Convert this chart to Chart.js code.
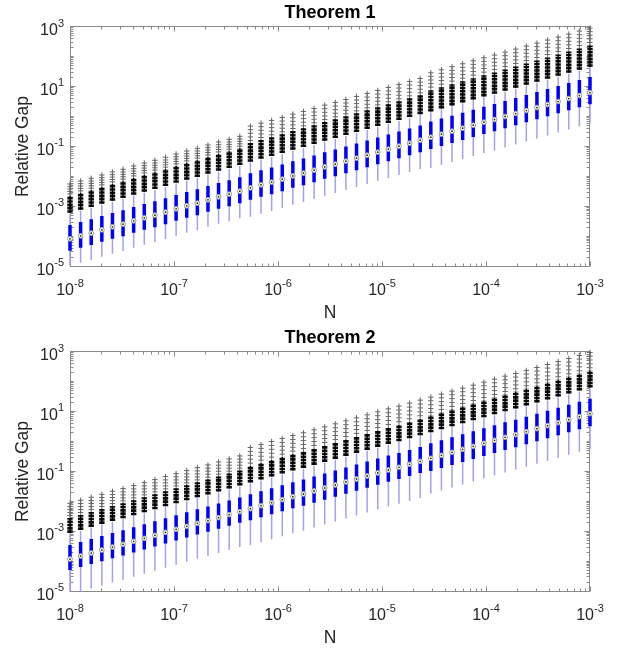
<!DOCTYPE html>
<html><head><meta charset="utf-8">
<script src="https://cdn.jsdelivr.net/npm/chart.js@4.4.1/dist/chart.umd.min.js"></script>
<style>
html,body{margin:0;padding:0;background:#fff;}
canvas{display:block;}
</style></head><body>
<canvas id="c1" width="624" height="325"></canvas>
<canvas id="c2" width="624" height="325"></canvas>
<script>
// ---------------- data (values given as base-10 exponents) ----------------
const nValues = [1.000e-8,1.265e-8,1.600e-8,2.024e-8,2.560e-8,3.237e-8,4.095e-8,5.179e-8,6.551e-8,8.286e-8,
1.048e-7,1.326e-7,1.677e-7,2.121e-7,2.683e-7,3.393e-7,4.292e-7,5.429e-7,6.866e-7,8.685e-7,
1.099e-6,1.389e-6,1.758e-6,2.223e-6,2.812e-6,3.556e-6,4.498e-6,5.690e-6,7.197e-6,9.103e-6,
1.151e-5,1.456e-5,1.842e-5,2.330e-5,2.947e-5,3.728e-5,4.715e-5,5.964e-5,7.543e-5,9.541e-5,
1.207e-4,1.526e-4,1.931e-4,2.442e-4,3.089e-4,3.907e-4,4.942e-4,6.251e-4,7.906e-4,1.000e-3];

const xTickExps = ['-8','-7','-6','-5','-4','-3'];
const yTickExps = ['3','1','-1','-3','-5'];
const chartTitles = ['Theorem 1','Theorem 2'];
const xAxisTitle = 'N';
const yAxisTitle = 'Relative Gap';

// Theorem 1
const thm1Med = [-4.10,-4.00,-3.91,-3.80,-3.70,-3.61,-3.50,-3.40,-3.31,-3.21,-3.10,-3.00,-2.91,-2.80,-2.70,-2.61,-2.51,-2.40,-2.30,-2.21,-2.11,-2.00,-1.91,-1.81,-1.70,-1.61,-1.51,-1.41,-1.31,-1.21,-1.11,-1.01,-0.91,-0.81,-0.71,-0.61,-0.51,-0.41,-0.31,-0.21,-0.12,-0.02,0.08,0.18,0.28,0.38,0.48,0.58,0.68,0.78];
const thm1Q3 = [-3.64,-3.54,-3.45,-3.34,-3.24,-3.15,-3.04,-2.94,-2.85,-2.75,-2.64,-2.54,-2.45,-2.34,-2.24,-2.15,-2.05,-1.91,-1.81,-1.72,-1.62,-1.51,-1.42,-1.32,-1.21,-1.12,-1.02,-0.92,-0.82,-0.72,-0.62,-0.52,-0.42,-0.32,-0.19,-0.09,0.01,0.11,0.21,0.31,0.40,0.50,0.60,0.70,0.80,0.90,1.00,1.10,1.20,1.30];
const thm1Q1 = [-4.50,-4.40,-4.31,-4.20,-4.10,-4.01,-3.90,-3.80,-3.71,-3.61,-3.50,-3.40,-3.31,-3.20,-3.10,-3.01,-2.91,-2.80,-2.70,-2.61,-2.51,-2.40,-2.31,-2.21,-2.10,-2.01,-1.91,-1.81,-1.71,-1.61,-1.51,-1.41,-1.31,-1.21,-1.10,-1.00,-0.90,-0.80,-0.70,-0.60,-0.51,-0.41,-0.31,-0.21,-0.11,-0.01,0.09,0.19,0.29,0.39];
const thm1WhiskLo = [-5.00,-4.90,-4.81,-4.70,-4.60,-4.51,-4.40,-4.30,-4.21,-4.11,-4.00,-3.90,-3.81,-3.70,-3.60,-3.51,-3.41,-3.36,-3.26,-3.17,-3.07,-2.96,-2.87,-2.77,-2.66,-2.57,-2.47,-2.37,-2.27,-2.17,-2.07,-1.97,-1.87,-1.77,-1.74,-1.64,-1.54,-1.44,-1.34,-1.24,-1.15,-1.05,-0.95,-0.85,-0.75,-0.65,-0.55,-0.45,-0.35,-0.25];
const thm1WhiskHi = [-3.26,-3.16,-3.07,-2.96,-2.86,-2.77,-2.66,-2.56,-2.47,-2.37,-2.26,-2.16,-2.07,-1.96,-1.86,-1.77,-1.67,-1.56,-1.46,-1.37,-1.27,-1.16,-1.07,-0.97,-0.86,-0.77,-0.67,-0.57,-0.47,-0.37,-0.27,-0.17,-0.07,0.03,0.12,0.22,0.32,0.42,0.52,0.62,0.71,0.81,0.91,1.01,1.11,1.21,1.31,1.41,1.51,1.61];
const thm1OutBandLo = [-3.23,-3.13,-3.04,-2.93,-2.83,-2.74,-2.63,-2.53,-2.44,-2.34,-2.23,-2.13,-2.04,-1.93,-1.83,-1.74,-1.64,-1.53,-1.43,-1.34,-1.24,-1.13,-1.04,-0.94,-0.83,-0.74,-0.64,-0.54,-0.44,-0.34,-0.24,-0.14,-0.04,0.06,0.15,0.25,0.35,0.45,0.55,0.65,0.74,0.84,0.94,1.04,1.14,1.24,1.34,1.44,1.54,1.64];
const thm1OutBandHi = [-2.67,-2.57,-2.48,-2.37,-2.27,-2.18,-2.07,-1.97,-1.88,-1.78,-1.67,-1.57,-1.48,-1.37,-1.27,-1.18,-1.08,-0.90,-0.80,-0.71,-0.61,-0.50,-0.41,-0.31,-0.20,-0.11,-0.01,0.09,0.19,0.29,0.39,0.49,0.59,0.69,0.86,0.96,1.06,1.16,1.26,1.36,1.45,1.55,1.65,1.75,1.85,1.95,2.05,2.15,2.25,2.35];
const thm1OutSparse = [
[-2.60,-2.52,-2.44,-2.36,-2.27],[-2.50,-2.42,-2.34,-2.26,-2.17],[-2.41,-2.33,-2.25,-2.17,-2.08],[-2.30,-2.22,-2.14,-2.06,-1.97],[-2.20,-2.12,-2.04,-1.96,-1.87],
[-2.11,-2.03,-1.95,-1.87,-1.78],[-2.00,-1.92,-1.84,-1.76,-1.67],[-1.90,-1.82,-1.74,-1.66,-1.57],[-1.81,-1.73,-1.65,-1.57,-1.48],[-1.71,-1.63,-1.55,-1.47,-1.38],
[-1.60,-1.52,-1.44,-1.36,-1.27],[-1.50,-1.42,-1.34,-1.26,-1.17],[-1.41,-1.33,-1.25,-1.17,-1.08],[-1.30,-1.22,-1.14,-1.06,-0.97],[-1.20,-1.12,-1.04,-0.96,-0.87],
[-1.11,-1.03,-0.95,-0.87,-0.78],[-1.01,-0.93,-0.85,-0.77,-0.68],[-0.82,-0.70,-0.58,-0.46,-0.34],[-0.72,-0.60,-0.48,-0.36,-0.24],[-0.63,-0.51,-0.39,-0.27,-0.15],
[-0.53,-0.41,-0.29,-0.17,-0.05],[-0.42,-0.30,-0.18,-0.06,0.06],[-0.33,-0.21,-0.09,0.03,0.15],[-0.23,-0.11,0.01,0.13,0.25],[-0.12,0.00,0.12,0.24,0.36],
[-0.03,0.09,0.21,0.33,0.45],[0.07,0.19,0.31,0.43,0.55],[0.17,0.29,0.41,0.53,0.65],[0.27,0.39,0.51,0.63,0.75],[0.37,0.49,0.61,0.73,0.85],
[0.47,0.59,0.71,0.83,0.95],[0.57,0.69,0.81,0.93,1.05],[0.67,0.79,0.91,1.03,1.15],[0.77,0.89,1.01,1.13,1.25],[0.96,1.08,1.20,1.32,1.44],
[1.06,1.18,1.30,1.42,1.54],[1.16,1.28,1.40,1.52,1.64],[1.26,1.38,1.50,1.62,1.74],[1.36,1.48,1.60,1.72,1.84],[1.46,1.58,1.70,1.82,1.94],
[1.55,1.67,1.79,1.91,2.03],[1.65,1.77,1.89,2.01,2.13],[1.75,1.87,1.99,2.11,2.23],[1.85,1.97,2.09,2.21,2.33],[1.95,2.07,2.19,2.31,2.43],
[2.05,2.17,2.29,2.41,2.53],[2.15,2.27,2.39,2.51,2.63],[2.25,2.37,2.49,2.61,2.73],[2.35,2.47,2.59,2.71,2.83],[2.45,2.57,2.69,2.81,2.93]];

// Theorem 2
const thm2Med = [-3.94,-3.84,-3.74,-3.64,-3.54,-3.45,-3.35,-3.25,-3.15,-3.05,-2.95,-2.85,-2.75,-2.66,-2.56,-2.46,-2.36,-2.26,-2.16,-2.06,-1.96,-1.86,-1.77,-1.67,-1.57,-1.47,-1.37,-1.27,-1.17,-1.07,-0.97,-0.88,-0.78,-0.68,-0.58,-0.48,-0.38,-0.28,-0.18,-0.08,0.02,0.12,0.21,0.31,0.41,0.51,0.61,0.71,0.81,0.91];
const thm2Q3 = [-3.47,-3.37,-3.27,-3.17,-3.07,-2.98,-2.88,-2.78,-2.68,-2.58,-2.48,-2.38,-2.28,-2.19,-2.09,-1.99,-1.89,-1.78,-1.68,-1.58,-1.48,-1.38,-1.29,-1.19,-1.09,-0.99,-0.89,-0.79,-0.69,-0.59,-0.49,-0.40,-0.30,-0.20,-0.08,0.02,0.12,0.22,0.32,0.42,0.52,0.62,0.71,0.81,0.91,1.01,1.11,1.21,1.31,1.41];
const thm2Q1 = [-4.31,-4.21,-4.11,-4.01,-3.91,-3.82,-3.72,-3.62,-3.52,-3.42,-3.32,-3.22,-3.12,-3.03,-2.93,-2.83,-2.73,-2.65,-2.55,-2.45,-2.35,-2.25,-2.16,-2.06,-1.96,-1.86,-1.76,-1.66,-1.56,-1.46,-1.36,-1.27,-1.17,-1.07,-1.00,-0.90,-0.80,-0.70,-0.60,-0.50,-0.40,-0.30,-0.21,-0.11,-0.01,0.09,0.19,0.29,0.39,0.49];
const thm2WhiskLo = [-5.12,-5.02,-4.92,-4.82,-4.72,-4.63,-4.53,-4.43,-4.33,-4.23,-4.13,-4.03,-3.93,-3.84,-3.74,-3.64,-3.54,-3.48,-3.38,-3.28,-3.18,-3.08,-2.99,-2.89,-2.79,-2.69,-2.59,-2.49,-2.39,-2.29,-2.19,-2.10,-2.00,-1.90,-1.75,-1.65,-1.55,-1.45,-1.35,-1.25,-1.15,-1.05,-0.96,-0.86,-0.76,-0.66,-0.56,-0.46,-0.36,-0.26];
const thm2WhiskHi = [-3.10,-3.00,-2.90,-2.80,-2.70,-2.61,-2.51,-2.41,-2.31,-2.21,-2.11,-2.01,-1.91,-1.82,-1.72,-1.62,-1.52,-1.42,-1.32,-1.22,-1.12,-1.02,-0.93,-0.83,-0.73,-0.63,-0.53,-0.43,-0.33,-0.23,-0.13,-0.04,0.06,0.16,0.26,0.36,0.46,0.56,0.66,0.76,0.86,0.96,1.05,1.15,1.25,1.35,1.45,1.55,1.65,1.75];
const thm2OutBandLo = [-3.07,-2.97,-2.87,-2.77,-2.67,-2.58,-2.48,-2.38,-2.28,-2.18,-2.08,-1.98,-1.88,-1.79,-1.69,-1.59,-1.49,-1.39,-1.29,-1.19,-1.09,-0.99,-0.90,-0.80,-0.70,-0.60,-0.50,-0.40,-0.30,-0.20,-0.10,-0.01,0.09,0.19,0.29,0.39,0.49,0.59,0.69,0.79,0.89,0.99,1.08,1.18,1.28,1.38,1.48,1.58,1.68,1.78];
const thm2OutBandHi = [-2.57,-2.47,-2.37,-2.27,-2.17,-2.08,-1.98,-1.88,-1.78,-1.68,-1.58,-1.48,-1.38,-1.29,-1.19,-1.09,-0.99,-0.84,-0.74,-0.64,-0.54,-0.44,-0.35,-0.25,-0.15,-0.05,0.05,0.15,0.25,0.35,0.45,0.54,0.64,0.74,0.85,0.95,1.05,1.15,1.25,1.35,1.45,1.55,1.64,1.74,1.84,1.94,2.04,2.14,2.24,2.34];
const thm2OutSparse = [
[-2.49,-2.39,-2.29,-2.19,-2.08],[-2.39,-2.29,-2.19,-2.09,-1.98],[-2.29,-2.19,-2.09,-1.99,-1.88],[-2.19,-2.09,-1.99,-1.89,-1.78],[-2.09,-1.99,-1.89,-1.79,-1.68],
[-2.00,-1.90,-1.80,-1.70,-1.59],[-1.90,-1.80,-1.70,-1.60,-1.49],[-1.80,-1.70,-1.60,-1.50,-1.39],[-1.70,-1.60,-1.50,-1.40,-1.29],[-1.60,-1.50,-1.40,-1.30,-1.19],
[-1.50,-1.40,-1.30,-1.20,-1.09],[-1.40,-1.30,-1.20,-1.10,-0.99],[-1.30,-1.20,-1.10,-1.00,-0.89],[-1.21,-1.11,-1.01,-0.91,-0.80],[-1.11,-1.01,-0.91,-0.81,-0.70],
[-1.01,-0.91,-0.81,-0.71,-0.60],[-0.91,-0.81,-0.71,-0.61,-0.50],[-0.74,-0.61,-0.48,-0.35,-0.22],[-0.64,-0.51,-0.38,-0.25,-0.12],[-0.54,-0.41,-0.28,-0.15,-0.02],
[-0.44,-0.31,-0.18,-0.05,0.08],[-0.34,-0.21,-0.08,0.05,0.18],[-0.25,-0.12,0.01,0.14,0.27],[-0.15,-0.02,0.11,0.24,0.37],[-0.05,0.08,0.21,0.34,0.47],
[0.05,0.18,0.31,0.44,0.57],[0.15,0.28,0.41,0.54,0.67],[0.25,0.38,0.51,0.64,0.77],[0.35,0.48,0.61,0.74,0.87],[0.45,0.58,0.71,0.84,0.97],
[0.55,0.68,0.81,0.94,1.07],[0.64,0.77,0.90,1.03,1.16],[0.74,0.87,1.00,1.13,1.26],[0.84,0.97,1.10,1.23,1.36],[0.95,1.08,1.21,1.34,1.46],
[1.05,1.18,1.31,1.44,1.56],[1.15,1.28,1.41,1.54,1.66],[1.25,1.38,1.51,1.64,1.76],[1.35,1.48,1.61,1.74,1.86],[1.45,1.58,1.71,1.84,1.96],
[1.55,1.68,1.81,1.94,2.06],[1.65,1.78,1.91,2.04,2.16],[1.74,1.87,2.00,2.13,2.25],[1.84,1.97,2.10,2.23,2.35],[1.94,2.07,2.20,2.33,2.45],
[2.04,2.17,2.30,2.43,2.55],[2.14,2.27,2.40,2.53,2.65],[2.24,2.37,2.50,2.63,2.75],[2.34,2.47,2.60,2.73,2.85],[2.44,2.57,2.70,2.83,2.95]];

// ---------------- rendering ----------------
const FF = '"Liberation Sans", Arial, Helvetica, sans-serif';
const TXT = '#262626';
const AXC = '#8a8a8a';
const P = e => Math.pow(10, e);

function segments(lo, hi) {
  const pts = [];
  nValues.forEach((n, i) => {
    pts.push({x: n, y: P(lo[i])}, {x: n, y: P(hi[i])}, {x: n, y: null});
  });
  return pts;
}
function points(arr) { return nValues.map((n, i) => ({x: n, y: P(arr[i])})); }
function sparsePoints(list) {
  const pts = [];
  nValues.forEach((n, i) => list[i].forEach(e => pts.push({x: n, y: P(e)})));
  return pts;
}

function drawPow(ctx, exp, x, baseY, align) {
  ctx.font = '16px ' + FF; const w1 = ctx.measureText('10').width;
  ctx.font = '11px ' + FF; const w2 = ctx.measureText(exp).width;
  const x0 = align === 'center' ? x - (w1 + w2) / 2 : x - (w1 + w2);
  ctx.textAlign = 'left'; ctx.textBaseline = 'alphabetic';
  ctx.font = '16px ' + FF; ctx.fillText('10', x0, baseY);
  ctx.font = '11px ' + FF; ctx.fillText(exp, x0 + w1, baseY - 8.5);
}

const matlabAxes = {
  id: 'matlabAxes',
  beforeDatasetsDraw(chart) {
    const {ctx, chartArea: a, scales: {x, y}} = chart;
    ctx.save();
    ctx.strokeStyle = AXC; ctx.lineWidth = 1;
    const L = Math.round(a.left) + 0.5, R = Math.round(a.right) - 0.5;
    const T = Math.round(a.top) + 0.5, B = Math.round(a.bottom) - 0.5;
    ctx.strokeRect(L, T, R - L, B - T);
    ctx.beginPath();
    for (let d = -8; d <= -3; d++) {
      for (let m = 1; m <= 9; m++) {
        const v = m * Math.pow(10, d);
        if (v > 1.0001e-3) break;
        const px = Math.round(x.getPixelForValue(v)) + 0.5;
        const len = m === 1 ? 5 : 3;
        ctx.moveTo(px, B); ctx.lineTo(px, B - len);
        ctx.moveTo(px, T); ctx.lineTo(px, T + len);
      }
    }
    const major = yTickExps.map(Number);
    for (let d = -6; d <= 3; d++) {
      for (let m = 1; m <= 9; m++) {
        const v = m * Math.pow(10, d);
        if (v < y.min * 0.999 || v > 1.0001e3) continue;
        const py = Math.round(y.getPixelForValue(v)) + 0.5;
        const len = (m === 1 && major.includes(d)) ? 5 : 3;
        ctx.moveTo(L, py); ctx.lineTo(L + len, py);
        ctx.moveTo(R, py); ctx.lineTo(R - len, py);
      }
    }
    ctx.stroke();
    ctx.restore();
  },
  afterDraw(chart) {
    const {ctx, chartArea: a, scales: {x, y}} = chart;
    ctx.save();
    ctx.fillStyle = TXT;
    xTickExps.forEach(e => drawPow(ctx, e, x.getPixelForValue(P(Number(e))), a.bottom + 28, 'center'));
    yTickExps.forEach(e => drawPow(ctx, e, a.left - 6, y.getPixelForValue(P(Number(e))) + 9, 'right'));
    const cx = (a.left + a.right) / 2;
    ctx.font = '17.5px ' + FF; ctx.textAlign = 'center'; ctx.textBaseline = 'alphabetic';
    ctx.fillText(xAxisTitle, cx, a.bottom + 51);
    ctx.save();
    ctx.translate(23, (a.top + a.bottom) / 2); ctx.rotate(-Math.PI / 2);
    ctx.textBaseline = 'middle'; ctx.fillText(yAxisTitle, 0, 0);
    ctx.restore();
    ctx.fillStyle = '#000';
    ctx.font = 'bold 18px ' + FF; ctx.textAlign = 'center'; ctx.textBaseline = 'alphabetic';
    ctx.fillText(chart.options.plugins.matlabAxes.title, cx, a.top - 8);
    ctx.restore();
  }
};

const lineClip = {left: false, right: false, top: 0, bottom: 0};

function makeChart(id, title, d) {
  new Chart(document.getElementById(id), {
    type: 'scatter',
    data: {datasets: [
      {data: points(d.med), pointRadius: 0.9, pointBackgroundColor: '#222', pointBorderWidth: 0, order: 0, clip: false},
      {data: points(d.med), pointRadius: 2.4, pointBackgroundColor: '#fff', pointBorderColor: '#9a9a9a', pointBorderWidth: 1, order: 1, clip: false},
      {data: segments(d.q1, d.q3), showLine: true, borderColor: '#0000ff', borderWidth: 3.5, pointRadius: 0, borderCapStyle: 'butt', spanGaps: false, order: 2, clip: lineClip},
      {data: segments(d.lo, d.hi), showLine: true, borderColor: '#a0a0f6', borderWidth: 1.5, pointRadius: 0, borderCapStyle: 'butt', spanGaps: false, order: 3, clip: lineClip},
      {data: segments(d.bandLo, d.bandHi), showLine: true, borderColor: '#000', borderWidth: 1.4, pointRadius: 0, borderCapStyle: 'butt', spanGaps: false, order: 4, clip: lineClip},
      {data: segments(d.bandLo, d.bandHi), showLine: true, borderColor: '#0d0d0d', borderWidth: 5.4, borderDash: [2.6, 0.7], pointRadius: 0, borderCapStyle: 'butt', spanGaps: false, order: 5, clip: lineClip},
      {data: sparsePoints(d.sparse), pointStyle: 'cross', pointRadius: 2.7, pointBorderColor: '#656565', pointBorderWidth: 1, order: 6, clip: false}
    ]},
    options: {
      responsive: false, animation: false, events: [], devicePixelRatio: 1,
      layout: {padding: {top: 26, left: 0, right: 34, bottom: 0}},
      plugins: {legend: {display: false}, tooltip: {enabled: false}, title: {display: false}, matlabAxes: {title: title}},
      scales: {
        x: {type: 'logarithmic', min: 1e-8, max: 1e-3, ticks: {display: false}, grid: {display: false}, border: {display: false},
            afterFit(s) { s.height = 58; }},
        y: {type: 'logarithmic', min: P(-5.04), max: 1e3, ticks: {display: false}, grid: {display: false}, border: {display: false},
            afterFit(s) { s.width = 70; }}
      }
    },
    plugins: [matlabAxes]
  });
}

makeChart('c1', chartTitles[0], {med: thm1Med, q1: thm1Q1, q3: thm1Q3, lo: thm1WhiskLo, hi: thm1WhiskHi, bandLo: thm1OutBandLo, bandHi: thm1OutBandHi, sparse: thm1OutSparse});
makeChart('c2', chartTitles[1], {med: thm2Med, q1: thm2Q1, q3: thm2Q3, lo: thm2WhiskLo, hi: thm2WhiskHi, bandLo: thm2OutBandLo, bandHi: thm2OutBandHi, sparse: thm2OutSparse});
</script>
</body></html>
